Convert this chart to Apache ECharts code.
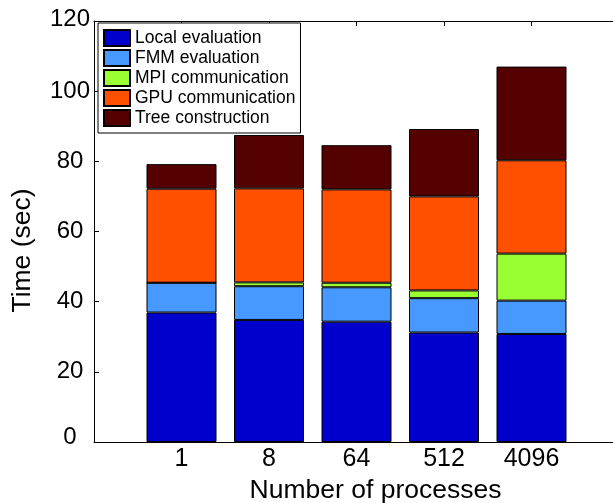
<!DOCTYPE html>
<html>
<head>
<meta charset="utf-8">
<script src="https://cdn.jsdelivr.net/npm/echarts@6/dist/echarts.min.js"></script>
<style>
html,body{margin:0;padding:0;background:#fff;}
#chart{width:613px;height:503px;}
</style>
</head>
<body>
<div id="chart"></div>
<script>
const categories = ['1', '8', '64', '512', '4096'];
const seriesNames = ['Local evaluation', 'FMM evaluation', 'MPI communication', 'GPU communication', 'Tree construction'];
const localEval = [36.9, 34.8, 34.3, 31.2, 30.8];
const fmmEval = [8.5, 9.6, 9.8, 9.8, 9.5];
const mpiComm = [0, 1.1, 1.3, 2.2, 13.4];
const gpuComm = [26.8, 26.8, 26.6, 26.8, 26.6];
const treeCons = [7.0, 15.2, 12.6, 19.2, 26.7];
const yTicks = [0, 20, 40, 60, 80, 100, 120];
const colors = ['#0000CC', '#4799FF', '#99FF33', '#FF5000', '#550000'];

const FONT = '"Liberation Sans", Arial, Helvetica, sans-serif';
const axisData = [''].concat(categories, ['']);
const pad = arr => [null].concat(arr, [null]);
const allValues = [localEval, fmmEval, mpiComm, gpuComm, treeCons];

const chart = echarts.init(document.getElementById('chart'), null, {renderer: 'canvas'});
chart.setOption({
  animation: false,
  backgroundColor: '#fff',
  textStyle: {fontFamily: FONT},
  grid: {left: 94, top: 21, width: 525, height: 421, show: false, containLabel: false, outerBoundsMode: 'none'},
  legend: {
    orient: 'vertical',
    left: 98, top: 23,
    padding: [6, 5, 6, 5],
    itemWidth: 26, itemHeight: 16, itemGap: 2, itemTextGap: 2,
    borderColor: '#000', borderWidth: 1, backgroundColor: '#fff',
    icon: 'rect',
    textStyle: {fontFamily: FONT, fontSize: 17.5, color: '#000', lineHeight: 14, height: 14},
    data: seriesNames
  },
  xAxis: [{
    type: 'category', data: axisData, boundaryGap: false,
    axisLine: {lineStyle: {color: '#000', width: 1}},
    axisTick: {inside: true, length: 5, lineStyle: {color: '#000'}},
    axisLabel: {fontFamily: FONT, fontSize: 25, color: '#000', margin: 5, interval: 0},
    name: 'Number of processes', nameLocation: 'middle', nameGap: 34,
    nameTextStyle: {fontFamily: FONT, fontSize: 26.5, color: '#000', padding: [0, 0, 0, 38]},
    splitLine: {show: false}
  }, {
    type: 'category', data: axisData, boundaryGap: false, position: 'top',
    axisLine: {lineStyle: {color: '#000', width: 1}},
    axisTick: {inside: true, length: 5, lineStyle: {color: '#000'}},
    axisLabel: {show: false}, splitLine: {show: false}
  }],
  yAxis: {
    type: 'value', min: 0, max: 120, interval: 20,
    axisLine: {show: true, lineStyle: {color: '#000', width: 1}},
    axisTick: {show: true, inside: true, length: 5, lineStyle: {color: '#000'}},
    splitLine: {show: false},
    axisLabel: {
      fontFamily: FONT, fontSize: 24, color: '#000', margin: 24, align: 'center',
      formatter: v => v === yTicks[0] ? '{lo|' + v + '}' : (v === yTicks[yTicks.length - 1] ? '{hi|' + v + '}' : String(v)),
      rich: {
        lo: {fontFamily: FONT, fontSize: 24, color: '#000', padding: [0, 0, 9, 0]},
        hi: {fontFamily: FONT, fontSize: 24, color: '#000', padding: [0, 0, 3, 0]}
      }
    },
    name: 'Time (sec)', nameLocation: 'middle', nameGap: 58,
    nameTextStyle: {fontFamily: FONT, fontSize: 26.5, color: '#000', padding: [0, 38, 0, 0]}
  },
  series: seriesNames.map((name, i) => ({
    name: name, type: 'bar', stack: 'total', xAxisIndex: 0,
    data: pad(allValues[i]),
    barWidth: 70,
    itemStyle: {color: colors[i], borderColor: '#000', borderWidth: 1}
  }))
});
</script>
</body>
</html>
